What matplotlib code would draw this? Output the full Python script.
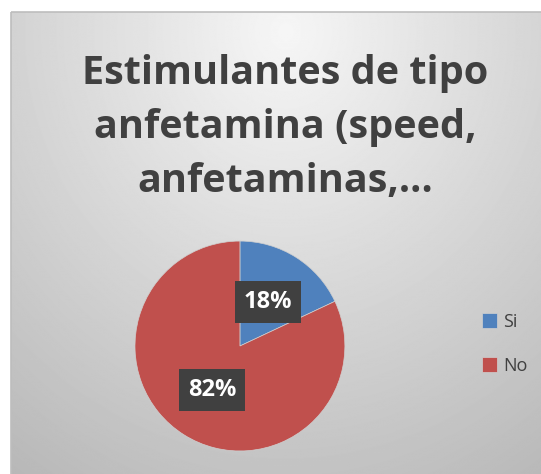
import numpy as np
import matplotlib.pyplot as plt
from matplotlib.patches import Rectangle

# datos
categorias = ["Si", "No"]
porcentajes = [18, 82]
colores = ["#4F81BD", "#C0504D"]
titulo = "Estimulantes de tipo\nanfetamina (speed,\nanfetaminas,…"

plt.rcParams['font.family'] = ['Open Sans', 'DejaVu Sans']

fig = plt.figure(figsize=(5.41, 4.74), dpi=100)

# fondo con degradado gris
bg = fig.add_axes([0, 0, 1, 1])
bg.set_xlim(0, 541)
bg.set_ylim(474, 0)
bg.axis('off')
yy, xx = np.mgrid[0:474, 0:541]
d = np.sqrt(((xx - 280) / 420.0) ** 2 + ((yy - 20) / 470.0) ** 2)
grad = 0.965 - 0.21 * np.clip(d, 0, 1.2)
bg.imshow(grad, cmap='gray', vmin=0, vmax=1, extent=(11, 541, 474, 12),
          interpolation='bilinear', zorder=0)
bg.add_patch(Rectangle((11, 12), 540, 470, fill=False, edgecolor='#bdbdbd', lw=1.2, zorder=1))

fig.text(0.527, 0.73, titulo, ha='center', va='center', fontsize=28.5,
         fontweight='bold', color='#404040', linespacing=1.5)

# pastel
ax = fig.add_axes([0.2495, 0.0485, 0.388, 0.443])
wedges, _, autotexts = ax.pie(porcentajes, colors=colores, startangle=90, counterclock=False,
                              autopct='%d%%', pctdistance=0.5, radius=1,
                              wedgeprops=dict(linewidth=0.5, edgecolor='#d0d0d0'))
for t in autotexts:
    t.set_color('white')
    t.set_fontsize(17)
    t.set_fontweight('bold')
    t.set_bbox(dict(boxstyle='square,pad=0.38', facecolor='#404040', edgecolor='none'))
ax.set_xlim(-1, 1)
ax.set_ylim(-1, 1)
ax.set_aspect('equal')

fig.legend(wedges, categorias, loc='center left', bbox_to_anchor=(0.86, 0.275),
           frameon=False, fontsize=13, labelcolor='#404040', handlelength=0.85,
           handleheight=0.85, handletextpad=0.35, labelspacing=1.45)

fig.savefig("out.png", dpi=100)
